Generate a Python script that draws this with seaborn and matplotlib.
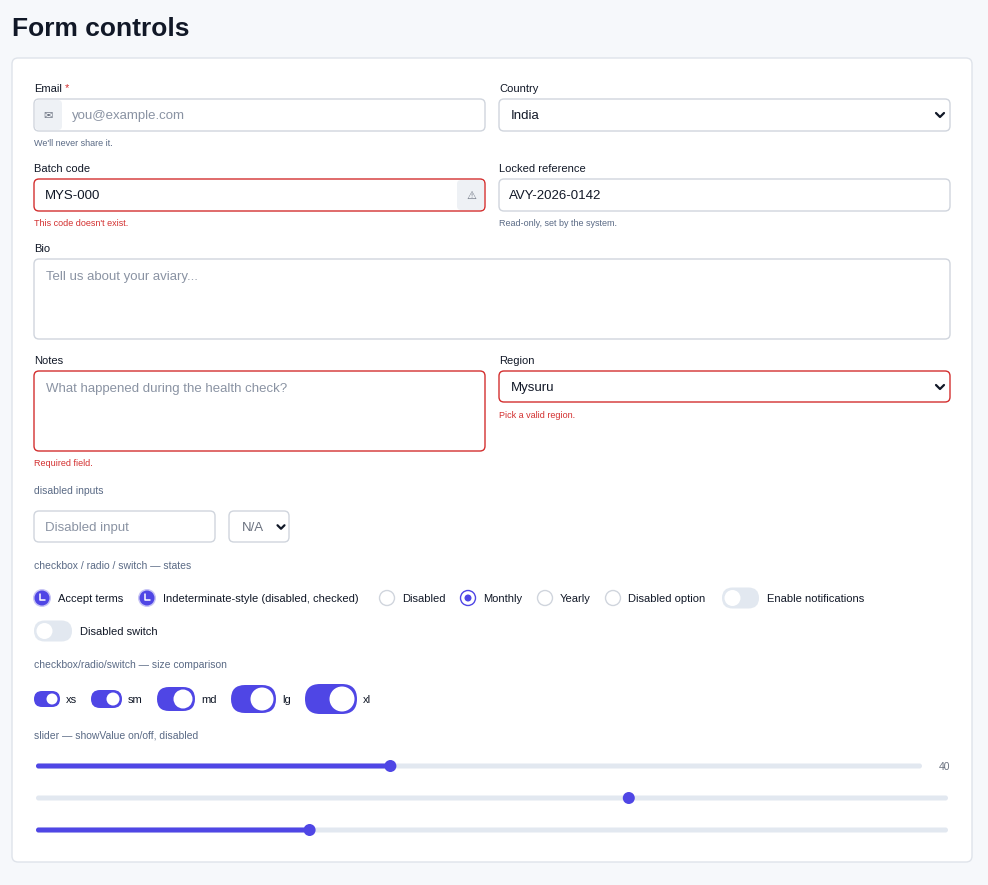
import matplotlib
matplotlib.use("Agg")
import matplotlib.pyplot as plt
import seaborn as sns
from matplotlib.patches import FancyBboxPatch, Circle

sns.set_theme(style="white")
plt.rcParams['font.family'] = ['Liberation Sans', 'DejaVu Sans']

# data
slider_values = [40, 65, 30]
slider_show_value = [True, False, False]
switch_sizes = ["xs", "sm", "md", "lg", "xl"]

PURPLE = "#4f46e5"; RED = "#d32f2f"; BORDER = "#d0d5dd"; GREY = "#6b7280"; MUTED = "#5a6a85"; DARK = "#111827"

fig = plt.figure(figsize=(9.88, 8.85), dpi=100, facecolor="#f6f8fb")
ax = fig.add_axes([0, 0, 1, 1])
ax.set_xlim(0, 988); ax.set_ylim(885, 0); ax.axis("off"); ax.set_facecolor("#f6f8fb")

def rr(x0, y0, x1, y1, fc="white", ec=BORDER, r=5, lw=1, z=1):
    ax.add_patch(FancyBboxPatch((x0, y0), x1 - x0, y1 - y0, boxstyle=f"round,pad=0,rounding_size={r}",
                                fc=fc, ec=ec, lw=lw, zorder=z))

def t(x, y, s, size=8, color=DARK, **kw):
    ax.text(x, y + 1, s, fontsize=size, color=color, va="center", ha=kw.pop("ha", "left"), zorder=5, **kw)

def chev(cx, cy, w=4, col=DARK):
    ax.plot([cx - w, cx, cx + w], [cy - w / 2, cy + w / 2, cy - w / 2], color=col, lw=1.6, zorder=5,
            solid_capstyle="round", solid_joinstyle="round")

t(12, 28, "Form controls", 19, DARK, fontweight="bold")
rr(12, 58, 972, 862, ec="#dfe3ea", r=6, z=0)

# Email
t(34, 88, "Email", 8); t(65, 87, "*", 8, RED)
rr(34, 99, 485, 131); rr(35, 100, 62, 130, fc="#eef1f5", ec="none", r=4, z=2)
t(48, 115, "✉", 8, GREY, ha="center"); t(72, 115, "you@example.com", 9.5, "#8a93a3")
t(34, 143, "We'll never share it.", 6.5, MUTED)
# Country
t(499, 88, "Country", 8)
rr(499, 99, 950, 131); t(511, 115, "India", 9.5); chev(940, 115)
# Batch code
t(34, 168, "Batch code", 8)
rr(34, 179, 485, 211, ec=RED); rr(457, 180, 484, 210, fc="#eef1f5", ec="none", r=4, z=2)
t(471, 195, "⚠", 8, GREY, ha="center"); t(45, 195, "MYS-000", 9.5)
t(34, 223, "This code doesn't exist.", 6.5, RED)
t(499, 168, "Locked reference", 8)
rr(499, 179, 950, 211); t(509, 195, "AVY-2026-0142", 9.5)
t(499, 223, "Read-only, set by the system.", 6.5, MUTED)
# Bio
t(34, 248, "Bio", 8); rr(34, 259, 950, 339); t(46, 276, "Tell us about your aviary...", 9.5, "#8a93a3")
# Notes / region
t(34, 360, "Notes", 8); rr(34, 371, 485, 451, ec=RED)
t(46, 388, "What happened during the health check?", 9.5, "#8a93a3")
t(34, 463, "Required field.", 6.5, RED)
t(499, 360, "Region", 8); rr(499, 371, 950, 402, ec=RED)
t(511, 387, "Mysuru", 9.5); chev(940, 387)
t(499, 414, "Pick a valid region.", 6.5, RED)
# disabled
t(34, 490, "disabled inputs", 7.5, MUTED)
rr(34, 511, 215, 542); t(45, 527, "Disabled input", 9.5, "#8a93a3")
rr(229, 511, 289, 542); t(242, 527, "N/A", 9.5, GREY); chev(281, 527, 3.5)
# states
t(34, 565, "checkbox / radio / switch — states", 7.5, MUTED)
y = 598
for cx, lab in [(42, "Accept terms"), (147, "Indeterminate-style (disabled, checked)")]:
    ax.add_patch(Circle((cx, y), 9, fc="#c7c4f5", ec="none", zorder=2))
    ax.add_patch(Circle((cx, y), 7.5, fc=PURPLE, ec="none", zorder=3))
    ax.plot([cx - 2, cx - 2, cx + 3], [y - 4, y + 1.5, y + 1.5], color="white", lw=1.1, zorder=4)
    t(cx + 16, y, lab, 8)
for cx, lab, on in [(387, "Disabled", False), (468, "Monthly", True), (545, "Yearly", False), (613, "Disabled option", False)]:
    ax.add_patch(Circle((cx, y), 7.5, fc="white", ec=PURPLE if on else BORDER, lw=1, zorder=2))
    if on: ax.add_patch(Circle((cx, y), 3.5, fc=PURPLE, ec="none", zorder=3))
    t(cx + 15, y, lab, 8)

def switch(x0, yc, w, h, on):
    rr(x0, yc - h / 2, x0 + w, yc + h / 2, fc=PURPLE if on else "#e2e8f0", ec="none", r=h / 2, z=2)
    cx = x0 + w - h / 2 if on else x0 + h / 2
    ax.add_patch(Circle((cx, yc), h / 2 - 2.5, fc="white", ec="none", zorder=3))

switch(722, y, 37, 21, False); t(767, y, "Enable notifications", 8)
switch(34, 631, 38, 21, False); t(80, 631, "Disabled switch", 8)
t(34, 664, "checkbox/radio/switch — size comparison", 7.5, MUTED)
for lab, x0, w, h in zip(switch_sizes, [34, 91, 157, 231, 305], [26, 31, 38, 45, 52], [16, 18, 24, 28, 30]):
    switch(x0, 699, w, h, True); t(x0 + w + 6, 699, lab, 8)

t(34, 735, "slider — showValue on/off, disabled", 7.5, MUTED)
for v, show, yy in zip(slider_values, slider_show_value, [766, 798, 830]):
    x1 = 922 if show else 948
    rr(36, yy - 2.5, x1, yy + 2.5, fc="#e2e8f0", ec="none", r=2.5, z=2)
    kx = 36 + (x1 - 36) * v / 100
    if yy != 798:
        rr(36, yy - 2.5, kx, yy + 2.5, fc=PURPLE, ec="none", r=2.5, z=3)
    ax.add_patch(Circle((kx, yy), 6, fc=PURPLE, ec="none", zorder=4))
    if show: t(950, yy, str(v), 7.5, GREY, ha="right")

fig.savefig("out.png", dpi=100, facecolor=fig.get_facecolor())
